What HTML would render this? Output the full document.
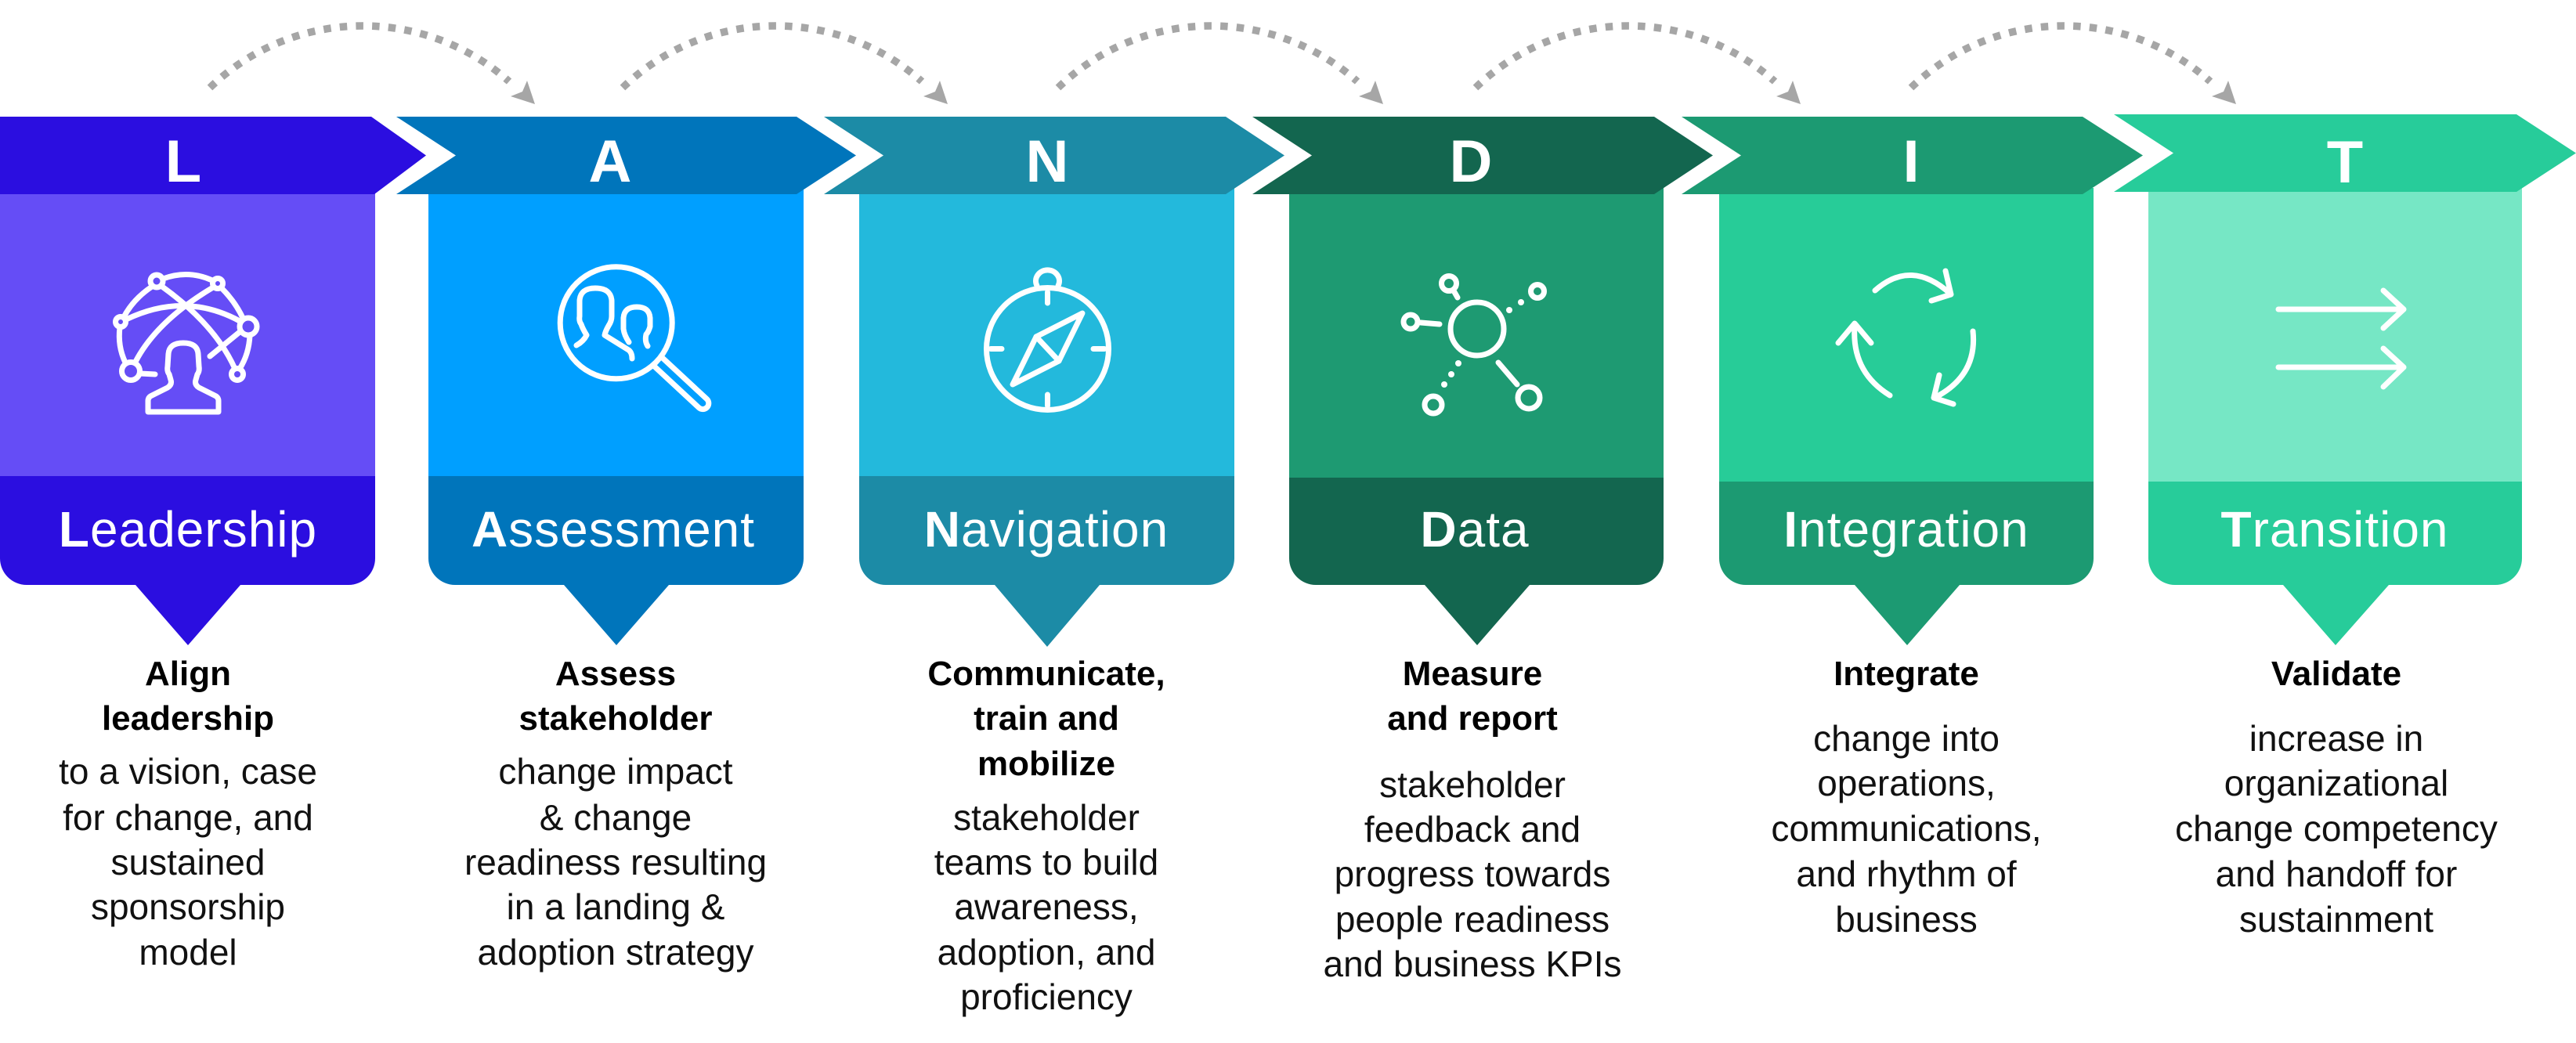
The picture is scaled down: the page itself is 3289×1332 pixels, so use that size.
<!DOCTYPE html>
<html>
<head>
<meta charset="utf-8">
<style>
html,body{margin:0;padding:0;background:#ffffff;}
svg{display:block;}
.hl{font-family:"Liberation Sans",Arial,sans-serif;font-weight:bold;font-size:76px;fill:#ffffff;text-anchor:middle;}
.tl{font-family:"Liberation Sans",Arial,sans-serif;font-size:64px;fill:#ffffff;text-anchor:middle;letter-spacing:1px;}
.bd{font-family:"Liberation Sans",Arial,sans-serif;font-weight:bold;font-size:44px;fill:#000;text-anchor:middle;}
.rg{font-family:"Liberation Sans",Arial,sans-serif;font-size:46px;fill:#111;text-anchor:middle;}
.ic{fill:none;stroke:#ffffff;stroke-width:7;stroke-linecap:round;stroke-linejoin:round;}
.ar{fill:none;stroke:#a6a6a6;stroke-width:9.5;stroke-dasharray:9.5 11.2;}
</style>
</head>
<body>
<svg width="3289" height="1332" viewBox="0 0 3289 1332" xmlns="http://www.w3.org/2000/svg">
<rect x="0" y="0" width="3289" height="1332" fill="#ffffff"/>

<!-- Dashed arcs -->
<g>
  <path class="ar" d="M268 112 A281 281 0 0 1 650 104"/>
  <polygon fill="#a6a6a6" points="673,103 683,133 652,123 667,117"/>
  <path class="ar" d="M795 112 A281 281 0 0 1 1177 104"/>
  <polygon fill="#a6a6a6" points="1200,103 1210,133 1179,123 1194,117"/>
  <path class="ar" d="M1351 112 A281 281 0 0 1 1733 104"/>
  <polygon fill="#a6a6a6" points="1756,103 1766,133 1735,123 1750,117"/>
  <path class="ar" d="M1884 112 A281 281 0 0 1 2266 104"/>
  <polygon fill="#a6a6a6" points="2289,103 2299,133 2268,123 2283,117"/>
  <path class="ar" d="M2440 112 A281 281 0 0 1 2822 104"/>
  <polygon fill="#a6a6a6" points="2845,103 2855,133 2824,123 2839,117"/>
</g>

<!-- Card L -->
<rect x="0" y="240" width="479" height="368" fill="#654DF6"/>
<path d="M0 608 H479 V713 A34 34 0 0 1 445 747 H307 L240 824 L173 747 H34 A34 34 0 0 1 0 713 Z" fill="#2B0EE0"/>
<polygon points="0,149 474,149 544,198.5 478,248 0,248" fill="#2B0EE0"/>

<!-- Card A -->
<rect x="547" y="240" width="479" height="368" fill="#009FFF"/>
<path d="M547 608 H1026 V713 A34 34 0 0 1 992 747 H854 L787 824 L720 747 H581 A34 34 0 0 1 547 713 Z" fill="#0075BB"/>
<polygon points="506,149 1017,149 1093,198.5 1017,248 506,248 582,198.5" fill="#0075BB"/>

<!-- Card N -->
<rect x="1097" y="240" width="479" height="368" fill="#23B9DC"/>
<path d="M1097 608 H1576 V713 A34 34 0 0 1 1542 747 H1404 L1337 826 L1270 747 H1131 A34 34 0 0 1 1097 713 Z" fill="#1C8BA6"/>
<polygon points="1052,149 1565,149 1640,198.5 1565,248 1052,248 1128,198.5" fill="#1C8BA6"/>

<!-- Card D -->
<rect x="1646" y="240" width="478" height="370" fill="#1E9A72"/>
<path d="M1646 610 H2124 V713 A34 34 0 0 1 2090 747 H1953 L1886 824 L1819 747 H1680 A34 34 0 0 1 1646 713 Z" fill="#13664F"/>
<polygon points="1599,149 2112,149 2187,198.5 2112,248 1599,248 1675,198.5" fill="#13664F"/>

<!-- Card I -->
<rect x="2195" y="240" width="478" height="375" fill="#27CC98"/>
<path d="M2195 615 H2673 V713 A34 34 0 0 1 2639 747 H2502 L2435 824 L2368 747 H2229 A34 34 0 0 1 2195 713 Z" fill="#1C9A72"/>
<polygon points="2147,149 2659,149 2736,198.5 2659,248 2147,248 2223,198.5" fill="#1C9A72"/>

<!-- Card T -->
<rect x="2743" y="238" width="477" height="377" fill="#76E7C5"/>
<path d="M2743 615 H3220 V713 A34 34 0 0 1 3186 747 H3050 L2982 824 L2915 747 H2777 A34 34 0 0 1 2743 713 Z" fill="#27CC9A"/>
<polygon points="2699,146 3213,146 3289,195.5 3213,245 2699,245 2775,195.5" fill="#27CC9A"/>

<!-- Header letters -->
<text class="hl" x="234" y="232">L</text>
<text class="hl" x="779" y="232">A</text>
<text class="hl" x="1337" y="232">N</text>
<text class="hl" x="1878" y="232">D</text>
<text class="hl" x="2440" y="232">I</text>
<text class="hl" x="2994" y="233">T</text>

<!-- Titles -->
<text class="tl" x="240" y="698"><tspan font-weight="bold">L</tspan>eadership</text>
<text class="tl" x="783" y="698"><tspan font-weight="bold">A</tspan>ssessment</text>
<text class="tl" x="1336" y="698"><tspan font-weight="bold">N</tspan>avigation</text>
<text class="tl" x="1883" y="698"><tspan font-weight="bold">D</tspan>ata</text>
<text class="tl" x="2434" y="698"><tspan font-weight="bold">I</tspan>ntegration</text>
<text class="tl" x="2981" y="698"><tspan font-weight="bold">T</tspan>ransition</text>

<!-- Icon L: globe person -->
<g class="ic">
  <circle cx="200" cy="359" r="8"/>
  <circle cx="278" cy="362" r="6.5"/>
  <circle cx="154" cy="411" r="6.5"/>
  <circle cx="317" cy="417" r="11"/>
  <circle cx="167" cy="474" r="11.5"/>
  <circle cx="303" cy="478" r="7.5"/>
  <path d="M208 356 Q240 344 271 358"/>
  <path d="M194 366 Q170 382 158 405"/>
  <path d="M153 418 Q150 442 160 463"/>
  <path d="M283 368 Q300 385 310 406"/>
  <path d="M319 428 Q318 452 306 471"/>
  <path d="M161 408 Q236 372 306 410"/>
  <path d="M207 366 Q275 415 300 471"/>
  <path d="M272 367 Q200 410 173 462"/>
  <path d="M179 477 L198 478"/>
  <path d="M268 455 L306 424"/>
  <path d="M189 526 L189 512 Q189 507 194 505 L214 495 Q220 491 218 485 L216 478 Q213 474 214 468 L215 452 Q216 438 234 438 Q252 438 253 452 L254 468 Q255 474 252 478 L250 485 Q248 491 254 495 L274 505 Q279 507 279 512 L279 526 Z"/>
</g>

<!-- Icon A: magnifier with people -->
<g class="ic">
  <circle cx="786.7" cy="412.3" r="71.5"/>
  <g transform="translate(786.7 412.3) rotate(42.9)">
    <path d="M74 -7.5 L151 -7.5 A7.5 7.5 0 0 1 151 7.5 L74 7.5"/>
  </g>
  <path d="M736 441 Q745 436 749 428 Q744 420 742 414 Q739 410 740 404 L740 384 Q741 368 760 368 Q780 368 781 384 L781 404 Q781 410 777 416 Q773 423 772 428 L801 446 Q807 449 807 458"/>
  <path d="M803 437 Q797 428 796 420 L796 406 Q797 392 813 392 Q829 392 830 406 L830 417 Q828 424 825 427 Q823 436 827 442"/>
</g>

<!-- Icon N: compass -->
<g class="ic">
  <circle cx="1337.5" cy="445.5" r="78"/>
  <path d="M1324 365 A15 14 0 1 1 1351 365"/>
  <path d="M1337.5 373 L1337.5 387"/>
  <path d="M1337.5 504 L1337.5 518"/>
  <path d="M1265 445.5 L1279 445.5"/>
  <path d="M1396 445.5 L1410 445.5"/>
  <polygon points="1382,400 1323,430 1293,491 1352,461"/>
  <path d="M1323 430 L1352 461"/>
</g>

<!-- Icon D: network -->
<g class="ic">
  <circle cx="1886" cy="420" r="34"/>
  <circle cx="1850" cy="362" r="9.5"/>
  <path d="M1857 373 L1861 380"/>
  <circle cx="1963" cy="372" r="8.5"/>
  <circle cx="1801" cy="411" r="9"/>
  <path d="M1814 412 L1838 414"/>
  <circle cx="1830" cy="517" r="11"/>
  <circle cx="1952" cy="508" r="14"/>
  <path d="M1913 463 L1937 491"/>
</g>
<g fill="#ffffff">
  <circle cx="1942" cy="386" r="4"/>
  <circle cx="1927" cy="396" r="4"/>
  <circle cx="1844" cy="491" r="4"/>
  <circle cx="1853" cy="478" r="4"/>
  <circle cx="1862" cy="464" r="4"/>
</g>

<!-- Icon I: cycle -->
<g class="ic" stroke-width="6.5">
  <path d="M2394 371 Q2440 330 2490 375"/>
  <path d="M2484 346 L2491 376 L2466 384"/>
  <path d="M2368 417 Q2364 475 2413 505"/>
  <path d="M2347 438 L2368 413 L2389 438"/>
  <path d="M2519 423 Q2525 480 2470 508"/>
  <path d="M2476 479 L2469 508 L2494 516"/>
</g>

<!-- Icon T: arrows -->
<g class="ic" stroke-width="6.5">
  <path d="M2909 395 L3068 395"/>
  <path d="M3043 371 L3069 395 L3043 419"/>
  <path d="M2909 469 L3068 469"/>
  <path d="M3043 445 L3069 469 L3043 494"/>
</g>

<!-- Descriptions -->
<text class="bd" x="240" y="875">Align</text>
<text class="bd" x="240" y="932">leadership</text>
<text class="rg" x="240" y="1001">to a vision, case</text>
<text class="rg" x="240" y="1060">for change, and</text>
<text class="rg" x="240" y="1117">sustained</text>
<text class="rg" x="240" y="1174">sponsorship</text>
<text class="rg" x="240" y="1232">model</text>

<text class="bd" x="786" y="875">Assess</text>
<text class="bd" x="786" y="932">stakeholder</text>
<text class="rg" x="786" y="1001">change impact</text>
<text class="rg" x="786" y="1060">&amp; change</text>
<text class="rg" x="786" y="1117">readiness resulting</text>
<text class="rg" x="786" y="1174">in a landing &amp;</text>
<text class="rg" x="786" y="1232">adoption strategy</text>

<text class="bd" x="1336" y="875">Communicate,</text>
<text class="bd" x="1336" y="932">train and</text>
<text class="bd" x="1336" y="990">mobilize</text>
<text class="rg" x="1336" y="1060">stakeholder</text>
<text class="rg" x="1336" y="1117">teams to build</text>
<text class="rg" x="1336" y="1174">awareness,</text>
<text class="rg" x="1336" y="1232">adoption, and</text>
<text class="rg" x="1336" y="1289">proficiency</text>

<text class="bd" x="1880" y="875">Measure</text>
<text class="bd" x="1880" y="932">and report</text>
<text class="rg" x="1880" y="1018">stakeholder</text>
<text class="rg" x="1880" y="1075">feedback and</text>
<text class="rg" x="1880" y="1132">progress towards</text>
<text class="rg" x="1880" y="1190">people readiness</text>
<text class="rg" x="1880" y="1247">and business KPIs</text>

<text class="bd" x="2434" y="875">Integrate</text>
<text class="rg" x="2434" y="959">change into</text>
<text class="rg" x="2434" y="1016">operations,</text>
<text class="rg" x="2434" y="1074">communications,</text>
<text class="rg" x="2434" y="1132">and rhythm of</text>
<text class="rg" x="2434" y="1190">business</text>

<text class="bd" x="2983" y="875">Validate</text>
<text class="rg" x="2983" y="959">increase in</text>
<text class="rg" x="2983" y="1016">organizational</text>
<text class="rg" x="2983" y="1074">change competency</text>
<text class="rg" x="2983" y="1132">and handoff for</text>
<text class="rg" x="2983" y="1190">sustainment</text>
</svg>
</body>
</html>
